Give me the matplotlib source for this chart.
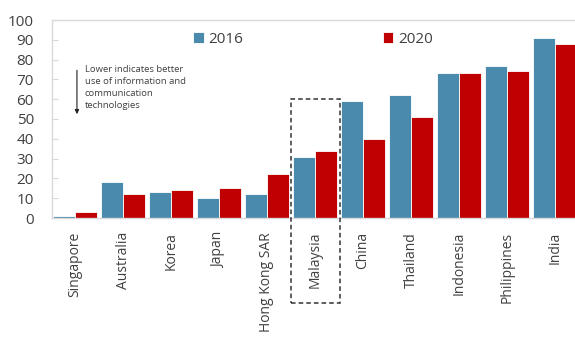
import numpy as np
import matplotlib
matplotlib.use("Agg")
import matplotlib.pyplot as plt
from matplotlib.patches import Rectangle

countries = ["Singapore", "Australia", "Korea", "Japan", "Hong Kong SAR",
             "Malaysia", "China", "Thailand", "Indonesia", "Philippines", "India"]
values_2016 = [1, 18, 13, 10, 12, 31, 59, 62, 73, 77, 91]
values_2020 = [3, 12, 14, 15, 22, 34, 40, 51, 73, 74, 88]
y_ticks = [0, 10, 20, 30, 40, 50, 60, 70, 80, 90, 100]

BLUE = "#4a8bad"
RED = "#c00000"
TEXT = "#404040"
GRID = "#d9d9d9"

plt.rcParams["font.family"] = ["Open Sans", "DejaVu Sans"]

fig = plt.figure(figsize=(5.75, 3.43), dpi=100)
ax = fig.add_axes([52 / 575, 1 - 218 / 343, 1 - 52 / 575, 198 / 343])

x = np.arange(len(countries))
width = 0.46
ax.bar(x - width / 2, values_2016, width, color=BLUE, edgecolor="white",
       linewidth=0.6, label="2016")
ax.bar(x + width / 2, values_2020, width, color=RED, edgecolor="white",
       linewidth=0.6, label="2020")

ax.set_xlim(-0.48, 10.42)
ax.set_ylim(0, 100)
ax.set_yticks(y_ticks)
ax.set_yticklabels([str(t) for t in y_ticks], fontsize=11, color=TEXT)
ax.set_xticks(x)
ax.set_xticklabels(countries, rotation=90, fontsize=10, color=TEXT)
ax.tick_params(axis="y", direction="in", length=4, pad=13, color=GRID)
ax.tick_params(axis="x", length=0, pad=10)

for side in ["top", "left", "bottom"]:
    ax.spines[side].set_color(GRID)
    ax.spines[side].set_linewidth(1)
ax.spines["right"].set_visible(False)

# dashed box highlighting Malaysia
ax.add_patch(Rectangle((4.51, -43), 1.02, 103, fill=False, linestyle=(0, (3, 2)),
                       edgecolor="#333333", linewidth=1.1, clip_on=False, zorder=5))

# note with downward arrow
ax.annotate("", xy=(0.04, 51), xytext=(0.04, 76),
            arrowprops=dict(arrowstyle="-|>,head_length=0.25,head_width=0.12",
                            color="#222222", lw=0.8))
ax.text(0.2, 77.5, "Lower indicates better\nuse of information and\ncommunication\ntechnologies",
        fontsize=6.8, color=TEXT, va="top", ha="left", linespacing=1.45)

ax.legend(loc="upper left", bbox_to_anchor=(0.243, 1.01), ncol=2, frameon=False,
          fontsize=11, handlelength=0.7, handleheight=0.7, handletextpad=0.3,
          columnspacing=9.15, labelcolor=TEXT)

fig.savefig("out.png", dpi=100, facecolor="white")
